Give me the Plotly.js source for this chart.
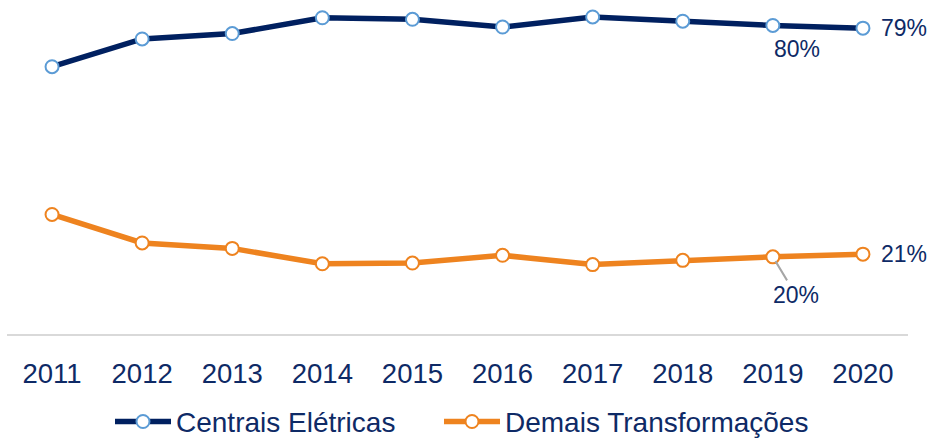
<!DOCTYPE html>
<html><head><meta charset="utf-8">
<script src="https://cdn.plot.ly/plotly-3.0.1.min.js"></script>
<style>html,body{margin:0;padding:0;background:#fff;}#chart{width:933px;height:438px;}</style>
</head><body><div id="chart"></div>
<script>
const years = ['2011','2012','2013','2014','2015','2016','2017','2018','2019','2020'];
const centraisEletricas = [69.3, 76.5, 77.9, 82.0, 81.6, 79.6, 82.2, 81.1, 80.0, 79.3];
const demaisTransformacoes = [31.0, 23.6, 22.2, 18.2, 18.4, 20.4, 18.0, 19.1, 20.0, 20.7];
const seriesNames = ['Centrais Elétricas', 'Demais Transformações'];

const txt = '#0E2A66';
const font = 'Arial, Liberation Sans, sans-serif';

const traces = [
  {x: years, y: centraisEletricas, name: seriesNames[0], type: 'scatter', mode: 'lines+markers',
   line: {color: '#002060', width: 5.5}, cliponaxis: false, legend: 'legend',
   marker: {size: 13, color: '#ffffff', line: {color: '#5B9BD5', width: 2}}},
  {x: years, y: demaisTransformacoes, name: seriesNames[1], type: 'scatter', mode: 'lines+markers',
   line: {color: '#EE831F', width: 5.5}, cliponaxis: false, legend: 'legend2',
   marker: {size: 13, color: '#ffffff', line: {color: '#EE831F', width: 2}}}
];

const n = years.length - 1;
const lf = {size: 23, color: txt, family: font};
const annotations = [
  {xref: 'x', yref: 'y', x: n, y: centraisEletricas[n], text: Math.round(centraisEletricas[n]) + '%', showarrow: false, xanchor: 'left', yanchor: 'middle', xshift: 16, font: lf},
  {xref: 'x', yref: 'y', x: n, y: demaisTransformacoes[n], text: Math.round(demaisTransformacoes[n]) + '%', showarrow: false, xanchor: 'left', yanchor: 'middle', xshift: 16, font: lf},
  {xref: 'x', yref: 'y', x: n - 1, y: centraisEletricas[n-1], text: Math.round(centraisEletricas[n-1]) + '%', showarrow: false, xanchor: 'center', yanchor: 'middle', xshift: 24, yshift: -24, font: lf},
  {xref: 'x', yref: 'y', x: n - 1, y: demaisTransformacoes[n-1], text: Math.round(demaisTransformacoes[n-1]) + '%', showarrow: true, arrowhead: 0, arrowwidth: 2, arrowcolor: '#A6A6A6', ax: 23, ay: 38, standoff: 5, font: lf}
];

const legendBase = {orientation: 'h', xref: 'container', yref: 'container', xanchor: 'left', y: 0.037, yanchor: 'middle',
  font: {size: 28, color: txt, family: font}, itemwidth: 56, bgcolor: 'rgba(0,0,0,0)'};

const layout = {
  width: 933, height: 438,
  margin: {l: 7, r: 25, t: 0, b: 104},
  paper_bgcolor: '#ffffff', plot_bgcolor: '#ffffff',
  font: {family: font, color: txt},
  showlegend: true,
  legend: Object.assign({}, legendBase, {x: 110 / 933}),
  legend2: Object.assign({}, legendBase, {x: 439 / 933}),
  xaxis: {type: 'category', range: [-0.5, 9.5], showline: true, linecolor: '#D9D9D9', linewidth: 2,
          showgrid: false, zeroline: false, ticks: '', tickfont: {size: 27.5, color: txt, family: font},
          ticklabelstandoff: 14, fixedrange: true},
  yaxis: {range: [0, 86.6], visible: false, showgrid: false, zeroline: false, fixedrange: true},
  annotations: annotations
};
Plotly.newPlot('chart', traces, layout, {staticPlot: true});
</script></body></html>
